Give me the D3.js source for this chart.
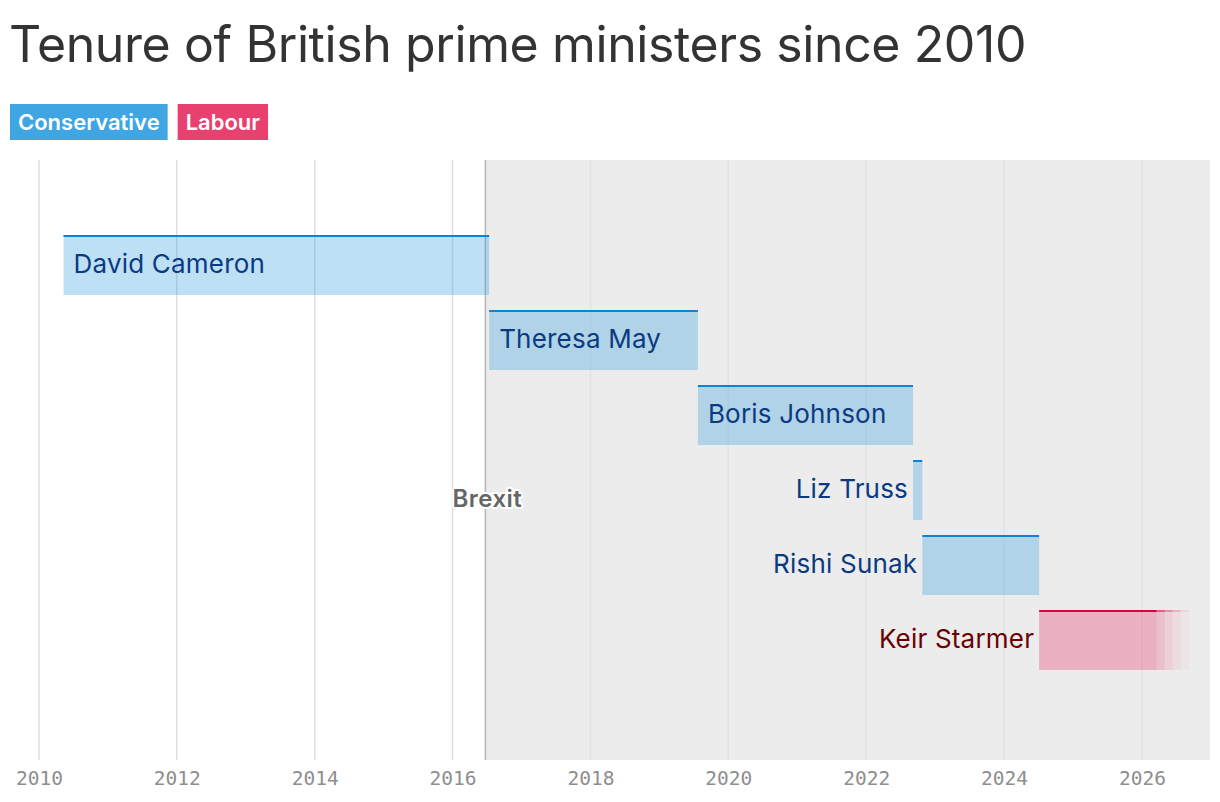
<!DOCTYPE html>
<html>
<head>
<meta charset="utf-8">
<script src="https://cdn.jsdelivr.net/npm/d3@7"></script>
<style>
  html, body { margin: 0; padding: 0; background: #fff; }
  svg { display: block; }
  .sans { font-family: Inter, "Noto Sans", sans-serif; }
  .mono { font-family: "DejaVu Sans Mono", "Liberation Mono", monospace; }
</style>
</head>
<body>
<svg id="chart" width="1220" height="802"></svg>
<script>
// ---- data ----
const names   = ["David Cameron", "Theresa May", "Boris Johnson", "Liz Truss", "Rishi Sunak", "Keir Starmer"];
const parties = ["Conservative", "Conservative", "Conservative", "Conservative", "Conservative", "Labour"];
const starts  = ["2010-05-11", "2016-07-13", "2019-07-24", "2022-09-06", "2022-10-25", "2024-07-05"];
const ends    = ["2016-07-13", "2019-07-24", "2022-09-06", "2022-10-25", "2024-07-05", "2026-03-20"];
const ongoing = [false, false, false, false, false, true];
const labelInside = [true, true, true, false, false, false];
const partyNames = ["Conservative", "Labour"];
const tickYears = [2010, 2012, 2014, 2016, 2018, 2020, 2022, 2024, 2026];
const brexitDate = "2016-06-23";
const brexitLabel = "Brexit";
const titleText = "Tenure of British prime ministers since 2010";

// ---- styles ----
const partyColor = { Conservative: "#3fa5e3", Labour: "#e8416f" };
const partyLine  = { Conservative: "#0a84d6", Labour: "#e0003c" };
const partyText  = { Conservative: "#0b3a82", Labour: "#6b0000" };

const parse = d3.timeParse("%Y-%m-%d");
const svg = d3.select("#chart");

const plot = { left: 10, right: 1210, top: 160, bottom: 760 };

// time scale: 2010-01-01 -> 39, 2026-01-01 -> 1142
const x0 = new Date(2010, 0, 1), x1 = new Date(2026, 0, 1);
const base = d3.scaleTime().domain([x0, x1]).range([39, 1142]);
const x = d3.scaleTime()
  .domain([base.invert(plot.left), base.invert(plot.right)])
  .range([plot.left, plot.right]);

const y = d3.scaleBand().domain(names).range([235, 670]).paddingInner(0.2).paddingOuter(0);

// title
svg.append("text").attr("class", "sans")
  .attr("x", 9).attr("y", 62)
  .attr("font-size", 50)
  .attr("fill", "#333")
  .attr("letter-spacing", -0.4)
  .text(titleText);

// legend
let lx = 10;
partyNames.forEach(p => {
  const g = svg.append("g");
  const t = g.append("text").attr("class", "sans")
    .attr("x", lx + 8).attr("y", 130)
    .attr("font-size", 22).attr("font-weight", 600)
    .attr("fill", "#fff")
    .text(p);
  const w = t.node().getComputedTextLength();
  g.insert("rect", "text")
    .attr("x", lx).attr("y", 104)
    .attr("width", w + 16).attr("height", 36)
    .attr("fill", partyColor[p]);
  lx += w + 16 + 10;
});

// post-Brexit shading
const bx = x(parse(brexitDate));
svg.append("rect")
  .attr("x", bx).attr("y", plot.top)
  .attr("width", plot.right - bx).attr("height", plot.bottom - plot.top)
  .attr("fill", "#ececec");

// gridlines
svg.append("g").selectAll("line")
  .data(tickYears)
  .join("line")
  .attr("x1", d => x(new Date(d, 0, 1))).attr("x2", d => x(new Date(d, 0, 1)))
  .attr("y1", plot.top).attr("y2", plot.bottom)
  .attr("stroke", d => x(new Date(d, 0, 1)) > bx ? "#e2e2e2" : "#dedede")
  .attr("stroke-width", 1.5);

// x axis
const axis = d3.axisBottom(x)
  .tickValues(tickYears.map(d => new Date(d, 0, 1)))
  .tickFormat(d3.timeFormat("%Y"))
  .tickSize(0).tickPadding(8);
const ax = svg.append("g").attr("transform", `translate(0,${plot.bottom})`).call(axis);
ax.select(".domain").remove();
ax.attr("font-family", null).attr("font-size", null);
ax.selectAll("text")
  .attr("class", "mono")
  .style("font-size", "19.5px")
  .attr("fill", "#8e8e8e")
  .attr("dy", "0.85em");

// Brexit line
svg.append("line")
  .attr("x1", bx).attr("x2", bx)
  .attr("y1", plot.top).attr("y2", plot.bottom)
  .attr("stroke", "#b5b5b5").attr("stroke-width", 1.5);

// bars
const bars = svg.append("g");
names.forEach((n, i) => {
  const p = parties[i];
  const xs = x(parse(starts[i])), xe = x(parse(ends[i]));
  const yt = y(n), h = y.bandwidth();
  bars.append("rect")
    .attr("x", xs).attr("y", yt)
    .attr("width", xe - xs).attr("height", h)
    .attr("fill", partyColor[p]).attr("fill-opacity", 0.34);
  bars.append("line")
    .attr("x1", xs).attr("x2", xe)
    .attr("y1", yt + 1).attr("y2", yt + 1)
    .attr("stroke", partyLine[p]).attr("stroke-width", 2);
  if (ongoing[i]) {
    const steps = [0.26, 0.16, 0.09, 0.04];
    const sw = 8;
    steps.forEach((o, k) => {
      bars.append("rect")
        .attr("x", xe + k * sw).attr("y", yt)
        .attr("width", sw).attr("height", h)
        .attr("fill", partyColor[p]).attr("fill-opacity", o);
      bars.append("line")
        .attr("x1", xe + k * sw).attr("x2", xe + (k + 1) * sw)
        .attr("y1", yt + 1).attr("y2", yt + 1)
        .attr("stroke", partyLine[p]).attr("stroke-width", 2)
        .attr("stroke-opacity", o * 2);
    });
  }
  bars.append("text").attr("class", "sans")
    .attr("x", labelInside[i] ? xs + 10 : xs - 5)
    .attr("y", yt + h / 2)
    .attr("dy", "0.29em")
    .attr("text-anchor", labelInside[i] ? "start" : "end")
    .attr("font-size", 26)
    .attr("letter-spacing", 0.2)
    .attr("fill", partyText[p])
    .text(n);
});

// Brexit label
svg.append("text").attr("class", "sans")
  .attr("x", bx + 2).attr("y", 498)
  .attr("dy", "0.36em")
  .attr("text-anchor", "middle")
  .attr("font-size", 24).attr("font-weight", 600)
  .attr("letter-spacing", 0.5)
  .attr("fill", "#666")
  .attr("stroke", "#fff").attr("stroke-width", 4)
  .attr("stroke-linejoin", "round")
  .attr("paint-order", "stroke")
  .text(brexitLabel);
</script>
</body>
</html>
